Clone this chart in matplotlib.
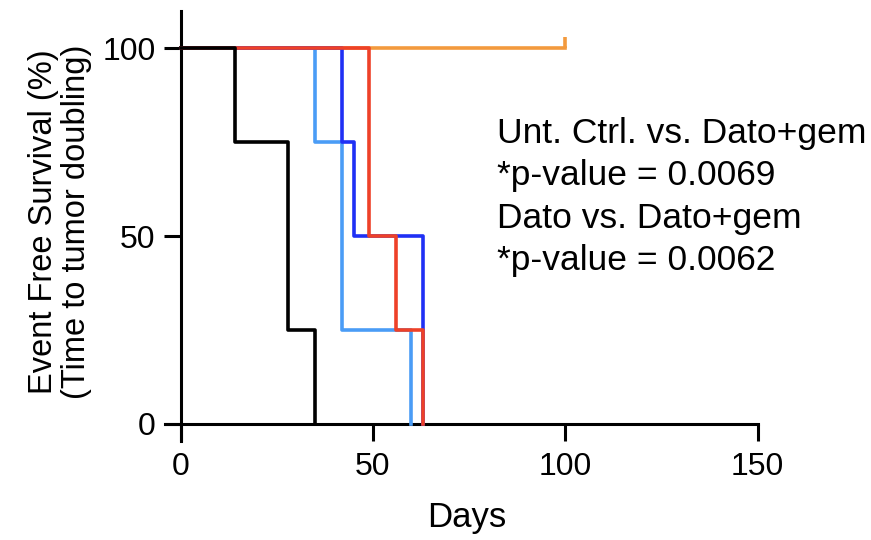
import matplotlib.pyplot as plt

plt.rcParams['font.family'] = ['Liberation Sans', 'DejaVu Sans']
narrow = ['Liberation Sans Narrow', 'Liberation Sans', 'DejaVu Sans']

# Kaplan-Meier steps (days, % event free)
ctrl_t = [0, 14, 28, 35]
ctrl_s = [100, 75, 25, 0]
dato_t = [0, 35, 42, 60]
dato_s = [100, 75, 25, 0]
gem_t = [0, 42, 45, 63]
gem_s = [100, 75, 50, 0]
combo_t = [0, 49, 56, 63]
combo_s = [100, 50, 25, 0]
datogem_t = [0, 100]
datogem_s = [100, 100]

x_ticks = [0, 50, 100, 150]
y_ticks = [0, 50, 100]

stats_lines = ['Unt. Ctrl. vs. Dato+gem', '*p-value = 0.0069',
               'Dato vs. Dato+gem', '*p-value = 0.0062']

fig = plt.figure(figsize=(8.71, 5.4), dpi=100)
ax = fig.add_axes([0.1898, 0.1835, 0.680, 0.797])

lw = 2.6
ax.step(datogem_t, datogem_s, where='post', color='#f39a3d', lw=lw, zorder=2)
ax.plot(datogem_t[-1:], datogem_s[-1:], marker=2, ms=8, mew=lw,
        color='#f39a3d', zorder=2)
ax.step(dato_t, dato_s, where='post', color='#4a9cf6', lw=lw, zorder=3)
ax.step(gem_t, gem_s, where='post', color='#1f30f5', lw=lw, zorder=4)
ax.step(combo_t, combo_s, where='post', color='#ee4128', lw=lw, zorder=5)
ax.step(ctrl_t, ctrl_s, where='post', color='black', lw=lw, zorder=6)

ax.set_xlim(-4, 150)
ax.set_ylim(-4.5, 110)
for side in ['top', 'right']:
    ax.spines[side].set_visible(False)
ax.spines['left'].set_position(('data', 0))
ax.spines['bottom'].set_position(('data', 0))
for side in ['left', 'bottom']:
    ax.spines[side].set_linewidth(2.2)

ax.set_xticks(x_ticks)
ax.set_yticks(y_ticks)
ax.tick_params(axis='both', length=12, width=2.2, labelsize=23)
ax.tick_params(axis='y', pad=6)
ax.tick_params(axis='x', pad=8)
for lab in ax.get_xticklabels() + ax.get_yticklabels():
    lab.set_family(narrow)

ax.set_xlabel('Days', fontsize=25, family=narrow)
ax.xaxis.set_label_coords(0.509, -0.14)

fig.text(0.069, 0.59, 'Event Free Survival (%)\n(Time to tumor doubling)',
         rotation=90, ha='center', va='center', fontsize=23.5,
         multialignment='center', linespacing=1.1)

for i, line in enumerate(stats_lines):
    ax.text(82.2, 77.4 - i * 11.3, line, fontsize=25.5, ha='left', va='center')

fig.savefig('out.png', dpi=100)
